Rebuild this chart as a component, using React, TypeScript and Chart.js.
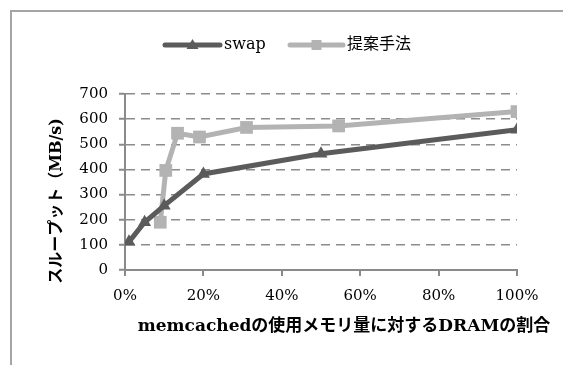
import React, { useEffect, useRef } from 'react';
import { Chart, registerables } from 'chart.js';

Chart.register(...registerables);

const seriesNames = ['swap', '提案手法'];
const swapX = [1, 5, 10, 20, 50, 100];
const swapY = [112, 190, 256, 382, 462, 558];
const propX = [9, 10.4, 13.4, 19, 31, 54.5, 100];
const propY = [190, 396, 544, 529, 567, 573, 630];
const xTickValues = [0, 20, 40, 60, 80, 100];
const yTickValues = [0, 100, 200, 300, 400, 500, 600, 700];
const xTitle = 'memcachedの使用メモリ量に対するDRAMの割合';
const yTitle = 'スループット（MB/s)';

const DARK = '#5b5b5b';
const LIGHT = '#b3b3b3';
const AXIS = '#8a8a8a';
const SERIF = '"DejaVu Serif", "Noto Sans CJK JP", serif';

const decorPlugin = {
  id: 'decor',
  beforeDraw(chart: any) {
    const ctx = chart.ctx;
    ctx.save();
    ctx.fillStyle = '#ffffff';
    ctx.fillRect(0, 0, chart.width, chart.height);
    ctx.strokeStyle = '#a5a5a5';
    ctx.lineWidth = 2;
    ctx.beginPath();
    ctx.moveTo(11, chart.height + 5);
    ctx.lineTo(11, 11);
    ctx.lineTo(chart.width + 5, 11);
    ctx.stroke();
    ctx.restore();
  },
  afterDraw(chart: any) {
    const ctx = chart.ctx;
    ctx.save();
    // legend
    const items = [
      { name: seriesNames[0], color: DARK, style: 'triangle', x0: 165, x1: 220, tx: 224 },
      { name: seriesNames[1], color: LIGHT, style: 'rect', x0: 290, x1: 343, tx: 347 },
    ];
    const ly = 45;
    items.forEach((it) => {
      ctx.strokeStyle = it.color;
      ctx.fillStyle = it.color;
      ctx.lineWidth = 5;
      ctx.lineCap = 'round';
      ctx.beginPath();
      ctx.moveTo(it.x0, ly);
      ctx.lineTo(it.x1, ly);
      ctx.stroke();
      const cx = (it.x0 + it.x1) / 2;
      if (it.style === 'triangle') {
        ctx.beginPath();
        ctx.moveTo(cx, ly - 6);
        ctx.lineTo(cx + 6, ly + 4);
        ctx.lineTo(cx - 6, ly + 4);
        ctx.closePath();
        ctx.fill();
      } else {
        ctx.fillRect(cx - 5, ly - 5, 10, 10);
      }
      ctx.fillStyle = '#000';
      ctx.font = `16px ${SERIF}`;
      ctx.textAlign = 'left';
      ctx.textBaseline = 'middle';
      ctx.fillText(it.name, it.tx, ly);
    });
    // axis titles
    ctx.fillStyle = '#000';
    ctx.font = `bold 17px ${SERIF}`;
    ctx.textAlign = 'center';
    ctx.textBaseline = 'middle';
    ctx.fillText(xTitle, 344, 327);
    ctx.translate(57, 201);
    ctx.rotate(-Math.PI / 2);
    ctx.font = `bold 16px ${SERIF}`;
    ctx.fillText(yTitle, 0, 0);
    ctx.restore();
  },
};

export default function App() {
  const ref = useRef<HTMLCanvasElement | null>(null);
  useEffect(() => {
    if (!ref.current) return;
    const chart = new Chart(ref.current, {
      type: 'line',
      data: {
        datasets: [
          {
            label: seriesNames[0],
            data: swapX.map((x, i) => ({ x, y: swapY[i] })),
            borderColor: DARK,
            backgroundColor: DARK,
            borderWidth: 5,
            pointStyle: 'triangle',
            pointRadius: 7.5,
            pointHoverRadius: 7.5,
            pointBorderWidth: 0,
            tension: 0,
          },
          {
            label: seriesNames[1],
            data: propX.map((x, i) => ({ x, y: propY[i] })),
            borderColor: LIGHT,
            backgroundColor: LIGHT,
            borderWidth: 5,
            pointStyle: 'rect',
            pointRadius: 9,
            pointHoverRadius: 9,
            pointBorderWidth: 0,
            tension: 0,
          },
        ],
      },
      options: {
        responsive: false,
        animation: false,
        events: [],
        layout: { padding: { left: 65, right: 46, top: 94, bottom: 0 } },
        plugins: { legend: { display: false }, tooltip: { enabled: false } },
        scales: {
          x: {
            type: 'linear',
            min: 0,
            max: 100,
            afterBuildTicks: (s: any) => {
              s.ticks = xTickValues.map((v) => ({ value: v }));
            },
            afterFit: (s: any) => {
              s.height = 95;
            },
            ticks: {
              callback: (v: any) => v + '%',
              color: '#000',
              font: { family: SERIF, size: 15 },
              padding: 11,
              maxRotation: 0,
            },
            grid: {
              drawOnChartArea: false,
              drawTicks: true,
              tickLength: 6,
              color: AXIS,
              lineWidth: 2,
            },
            border: { color: AXIS, width: 2 },
          },
          y: {
            type: 'linear',
            min: 0,
            max: 700,
            afterBuildTicks: (s: any) => {
              s.ticks = yTickValues.map((v) => ({ value: v }));
            },
            afterFit: (s: any) => {
              s.width = 60;
            },
            ticks: {
              color: '#000',
              font: { family: SERIF, size: 15 },
              padding: 11,
            },
            grid: {
              color: '#8c8c8c',
              lineWidth: 1.5,
              tickLength: 6,
              tickColor: AXIS,
              tickWidth: 2,
              tickBorderDash: [],
            },
            border: { color: AXIS, width: 2, dash: [9, 6] },
          },
        },
      },
      plugins: [decorPlugin],
    });
    return () => chart.destroy();
  }, []);
  return (
    <canvas
      ref={ref}
      width={563}
      height={365}
      style={{ position: 'absolute', left: 0, top: 0, width: 563, height: 365, display: 'block' }}
    />
  );
}
